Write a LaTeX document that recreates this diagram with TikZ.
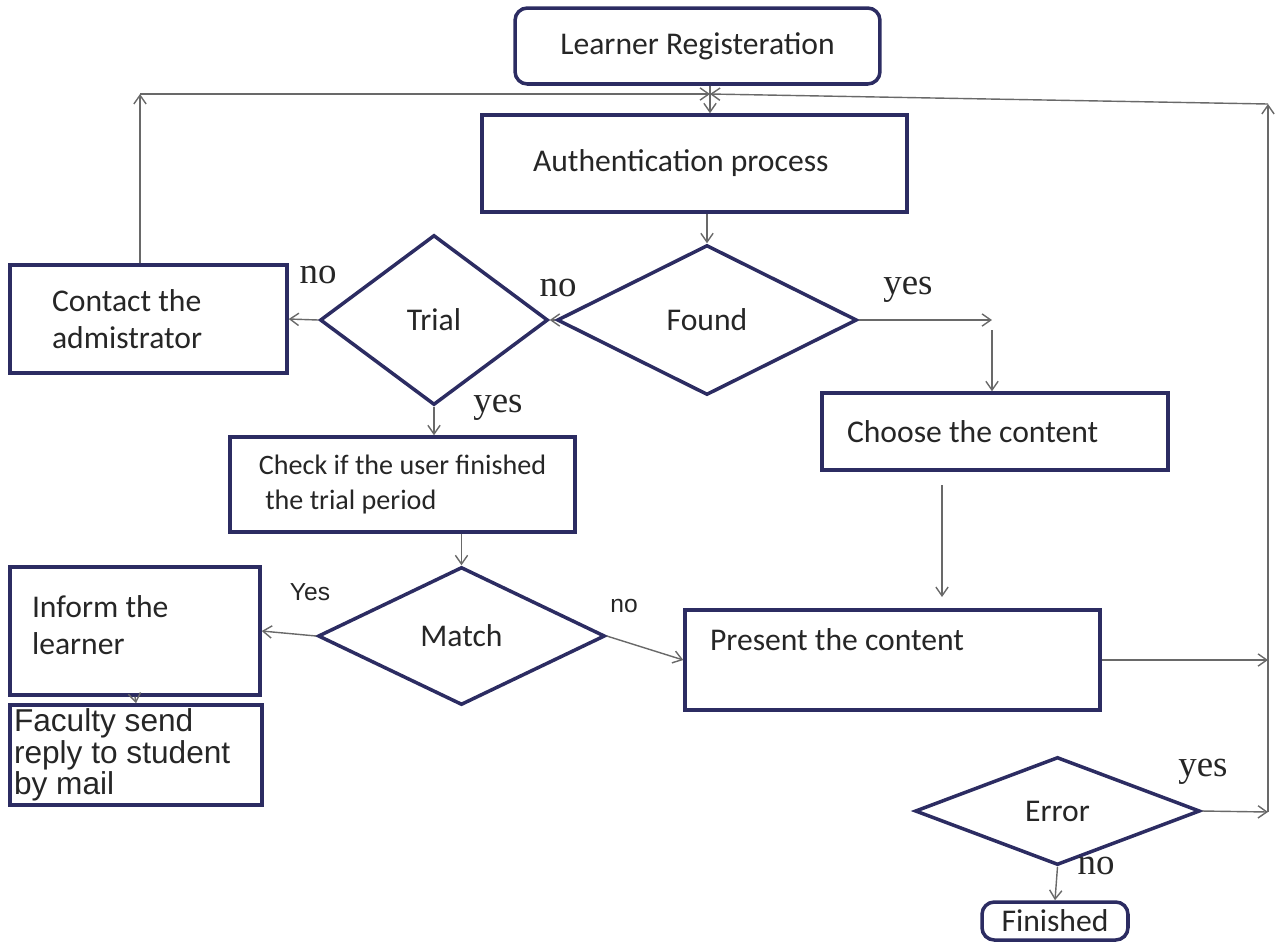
\documentclass[tikz,border=0pt]{standalone}
\usepackage{fontspec}
\setmainfont{Carlito}
\newfontfamily\serifnum{Liberation Serif}
\newfontfamily\arialfam{Liberation Sans}
\usetikzlibrary{arrows.meta,shapes.geometric,calc}
\definecolor{FCNavy}{RGB}{44,44,98}
\definecolor{FCGray}{RGB}{105,105,105}
\tikzset{
  fbox/.style={draw=FCNavy,line width=2pt,align=flush left,text=black!85,font=\fontsize{18}{21}\selectfont},
  rbox/.style={fbox,rounded corners=7pt,align=center},
  dbox/.style={diamond,draw=FCNavy,line width=2pt,inner sep=0pt,aspect=2,text=black!85,font=\fontsize{18}{21}\selectfont},
  conn/.style={-{Straight Barb[length=5pt,width=7pt]},FCGray,line width=0.8pt},
  tlbl/.style={font=\serifnum\fontsize{21}{24}\selectfont,text=black!85},
  slbl/.style={font=\arialfam\fontsize{14}{16}\selectfont,text=black!85},
}
\begin{document}
\begin{tikzpicture}[x=0.02cm,y=-0.02cm]
    \useasboundingbox (0,0) rectangle (1275,941);
    \node[rbox,minimum width=7.3cm,minimum height=1.52cm] (reg) at (697.5,46) {Learner Registeration};
    \node[fbox,minimum height=1.94cm,inner xsep=1.02cm,text width=6.46cm] (auth) at (694.5,163.5) {Authentication process};
    \node[dbox,minimum width=6cm,minimum height=3cm] (found) at (707,320) {Found};
    \node[dbox,minimum width=4.56cm,minimum height=3.4cm] (trial) at (434,320) {Trial};
    \node[fbox,minimum height=2.16cm,inner xsep=0.84cm,text width=3.86cm] (contact) at (148.5,319) {Contact the\\admistrator};
    \node[fbox,minimum width=6.9cm,minimum height=1.9cm,font=\fontsize{16}{20}\selectfont] (check) at (402.5,484.5) {Check if the user finished\\\ the trial period};
    \node[fbox,minimum height=1.54cm,inner xsep=0.5cm,text width=5.92cm] (choose) at (995,431.5) {Choose the content};
    \node[dbox,minimum width=5.74cm,minimum height=2.76cm] (match) at (461.5,636) {Match};
    \node[fbox,minimum height=2.56cm,inner xsep=0.44cm,text width=4.12cm] (inform) at (135,631) {\raisebox{0.25cm}{Inform the}\\\raisebox{0.25cm}{learner}};
    \node[fbox,minimum height=2cm,inner xsep=0.08cm,inner ysep=0pt,text width=4.88cm,font=\arialfam\fontsize{18}{18}\selectfont] (faculty) at (136,755) {Faculty send\\reply to student\\by mail};
    \node[fbox,minimum height=2cm,inner xsep=0.5cm,text width=7.3cm] (present) at (892.5,660) {\raisebox{0.8cm}{Present the content}};
    \node[dbox,minimum width=5.7cm,minimum height=2.16cm] (error) at (1057.5,811) {Error};
    \node[rbox,minimum width=2.92cm,minimum height=0.76cm,inner sep=0pt] (finished) at (1055,921) {Finished};
    \coordinate (top) at (710,94);
    \coordinate (tl) at (140,94);
    \coordinate (tr) at (1268,104);
    \coordinate (er) at (1268,812);
    \coordinate (fy) at (992,320);
    \coordinate (fd) at (992,330);
    \coordinate (cs) at (942,485);
    \coordinate (pc) at (942,597);
    \draw[conn] (reg.south -| top) -- (auth.north -| top);
    \draw[conn] (contact.north -| tl) -- (tl);
    \draw[conn] (tl) -- (top);
    \draw[conn] (tr) -- (top);
    \draw[conn] (error.east) -- (er);
    \draw[conn] (er) -- (tr);
    \draw[conn] (auth.south -| found) -- (found.north);
    \draw[conn] (found.west) -- (trial.east);
    \draw[conn] (found.east) -- (fy);
    \draw[conn] (fd) -- (choose.north -| fd);
    \draw[conn] (trial.west) -- (contact.east);
    \draw[conn] (trial.south) -- (check.north -| trial);
    \draw[conn] (check.south -| match) -- (match.north);
    \draw[conn] (match.west) -- (inform.east);
    \draw[conn] (match.east) -- (present.west);
    \draw[conn] (cs) -- (pc);
    \draw[conn] (present.east) -- (present.east -| er);
    \draw[conn] (inform.south) -- (faculty.north);
    \draw[conn] (error.south) -- (finished.north);
    \node[tlbl] (notrial) at (318,275) {no};
    \node[tlbl] (nofound) at (558,288) {no};
    \node[tlbl] (yesfound) at (908,290) {yes};
    \node[tlbl] (yestrial) at (498,408) {yes};
    \node[slbl] (yesmatch) at (310,592) {Yes};
    \node[slbl] (nomatch) at (624,606) {no};
    \node[tlbl] (yeserror) at (1203,772) {yes};
    \node[tlbl] (noerror) at (1096,866) {no};
  \end{tikzpicture}
\end{document}
